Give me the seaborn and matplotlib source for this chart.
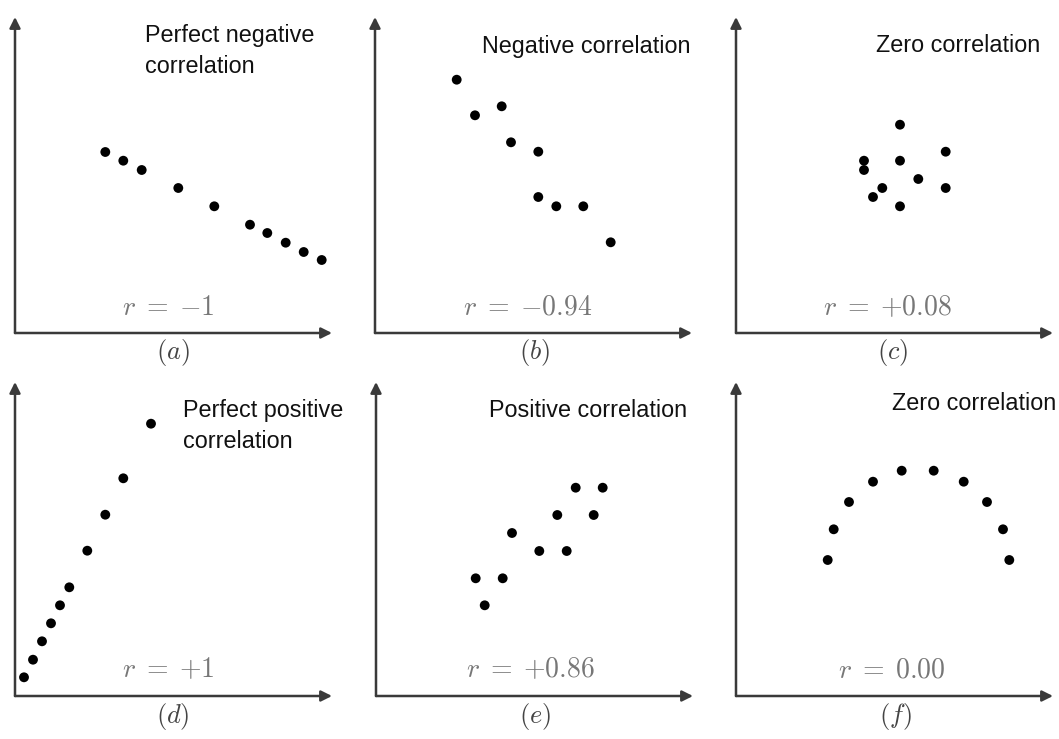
import matplotlib
matplotlib.use("Agg")
import matplotlib.pyplot as plt
import seaborn as sns
import pandas as pd

sns.set_theme(style="white")
plt.rcParams['font.family'] = ['Liberation Sans', 'DejaVu Sans']
plt.rcParams['mathtext.fontset'] = 'cm'

# ---- data (units: same scale as the axes, origin at axis corner) ----
a_x = [90.3, 108.3, 126.7, 163.3, 199.3, 235.0, 252.3, 270.7, 288.7, 306.7]
a_y = [181.0, 172.3, 163.0, 145.0, 126.7, 108.3, 100.0, 90.3, 81.0, 73.0]

b_x = [81.7, 100.0, 126.7, 136.0, 163.3, 163.3, 181.3, 208.3, 235.7]
b_y = [253.3, 217.7, 226.7, 190.7, 181.3, 136.0, 126.7, 126.7, 90.7]

c_x = [164.0, 209.7, 128.0, 164.0, 128.0, 182.3, 146.3, 209.7, 137.0, 164.0]
c_y = [208.3, 181.3, 172.3, 172.3, 163.0, 154.0, 145.0, 145.0, 136.0, 126.7]

d_x = [9.0, 18.0, 27.0, 36.0, 45.0, 54.3, 72.3, 90.3, 108.3, 136.0]
d_y = [18.7, 36.3, 54.7, 72.7, 90.7, 108.7, 145.3, 181.3, 217.7, 272.3]

e_x = [99.7, 126.7, 108.7, 136.0, 163.3, 190.7, 181.3, 217.7, 199.7, 226.7]
e_y = [117.7, 117.7, 90.7, 163.0, 145.0, 145.0, 181.0, 181.0, 208.3, 208.3]

f_x = [91.7, 97.7, 113.0, 137.0, 165.7, 197.7, 227.7, 251.0, 267.0, 273.3]
f_y = [136.0, 166.7, 194.0, 214.3, 225.3, 225.3, 214.3, 194.0, 166.7, 136.0]

titles = ["Perfect negative\ncorrelation", "Negative correlation", "Zero correlation",
          "Perfect positive\ncorrelation", "Positive correlation", "Zero correlation"]
r_labels = [r"$r\;=\;{-}1$", r"$r\;=\;{-}0.94$", r"$r\;=\;{+}0.08$",
            r"$r\;=\;{+}1$", r"$r\;=\;{+}0.86$", r"$r\;=\;0.00$"]
sub_labels = [r"$(a)$", r"$(b)$", r"$(c)$", r"$(d)$", r"$(e)$", r"$(f)$"]

series = [(a_x, a_y), (b_x, b_y), (c_x, c_y), (d_x, d_y), (e_x, e_y), (f_x, f_y)]

# ---- layout (pixels) ----
FW, FH = 1059, 739
fig = plt.figure(figsize=(FW / 100, FH / 100), dpi=100)

origins = [(15, 333), (375, 333), (736, 333), (15, 696), (376, 696), (736, 696)]
heights = [316, 316, 316, 314, 314, 314]
W = 317
title_pos = [(145, 42), (482, 53), (876, 52), (183, 417), (489, 417), (892, 410)]
r_pos = [(122, 315), (463, 315), (823, 315), (122, 677), (466, 677), (838, 677)]
sub_pos = [(173, 352), (535, 352), (893, 352), (173, 717), (535, 717), (895, 717)]

for i, ((xs, ys), (ox, oy), H) in enumerate(zip(series, origins, heights)):
    ax = fig.add_axes([ox / FW, (FH - oy) / FH, W / FW, H / FH])
    ax.set_xlim(0, W)
    ax.set_ylim(0, H)
    ax.axis("off")
    df = pd.DataFrame({"x": xs, "y": ys})
    sns.scatterplot(data=df, x="x", y="y", ax=ax, color="black", s=50,
                    edgecolor="none", clip_on=False)
    for tip in [(W, 0), (0, H)]:
        ax.annotate("", xy=tip, xytext=(0, 0), xycoords="data",
                    arrowprops=dict(arrowstyle="-|>", color="#3a3a3a", lw=1.8,
                                    mutation_scale=16, shrinkA=0, shrinkB=0),
                    annotation_clip=False)
    tx, ty = title_pos[i]
    lines = titles[i].split("\n")
    for k, line in enumerate(lines):
        fig.text(tx / FW, 1 - (ty + 31 * k) / FH, line, fontsize=16.8,
                 color="#111111", ha="left", va="baseline")
    rx, ry = r_pos[i]
    fig.text(rx / FW, 1 - ry / FH, r_labels[i], fontsize=20, color="#777777",
             ha="left", va="baseline")
    sx, sy = sub_pos[i]
    fig.text(sx / FW, 1 - sy / FH, sub_labels[i], fontsize=19, color="#444444",
             ha="center", va="center")

fig.savefig("out.png", dpi=100, facecolor="white")
